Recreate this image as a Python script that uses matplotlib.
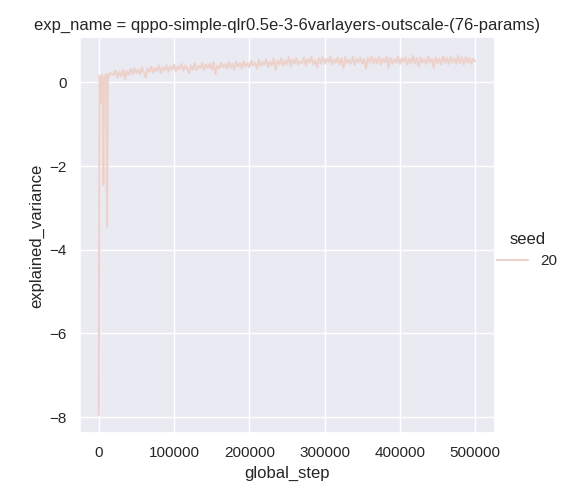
import numpy as np
import pandas as pd
import seaborn as sns
import matplotlib
matplotlib.use("Agg")
import matplotlib.pyplot as plt

exp_name = "qppo-simple-qlr0.5e-3-6varlayers-outscale-(76-params)"
seed = 20

# finer logging at the start of training, then every 2500 steps
early_steps = [0, 1000, 2000, 3000, 4000, 5000, 6000, 7000, 8000, 9000,
               10000, 11000, 12000, 13000, 14000, 15000, 17500, 20000]
early_values = [-7.95, 0.15, 0.1, -0.5, 0.18, 0.12, -2.45, 0.1, 0.05, 0.15,
                0.2, -3.45, 0.12, 0.18, 0.15, 0.22, 0.2, 0.18]

late_steps = np.arange(22500, 500001, 2500)
late_values = [
    0.28, 0.12, 0.25, 0.15, 0.3, 0.08, 0.27, 0.18, 0.32, 0.2,
    0.34, 0.22, 0.3, 0.19, 0.36, 0.24, 0.12, 0.33, 0.25, 0.37,
    0.23, 0.35, 0.27, 0.4, 0.22, 0.36, 0.29, 0.41, 0.25, 0.38,
    0.3, 0.42, 0.26, 0.39, 0.32, 0.44, 0.28, 0.4, 0.33, 0.22,
    0.41, 0.3, 0.45, 0.29, 0.39, 0.34, 0.46, 0.3, 0.42, 0.35,
    0.44, 0.31, 0.47, 0.2, 0.4, 0.33, 0.46, 0.36, 0.43, 0.32,
    0.48, 0.35, 0.44, 0.3, 0.49, 0.37, 0.45, 0.34, 0.5, 0.38,
    0.46, 0.36, 0.52, 0.4, 0.47, 0.33, 0.53, 0.39, 0.48, 0.42,
    0.55, 0.37, 0.5, 0.41, 0.56, 0.3, 0.51, 0.43, 0.57, 0.4,
    0.52, 0.44, 0.6, 0.38, 0.54, 0.45, 0.58, 0.42, 0.5, 0.46,
    0.59, 0.4, 0.55, 0.47, 0.61, 0.43, 0.53, 0.36, 0.58, 0.45,
    0.6, 0.44, 0.56, 0.48, 0.62, 0.42, 0.55, 0.47, 0.59, 0.43,
    0.57, 0.35, 0.6, 0.46, 0.54, 0.44, 0.61, 0.42, 0.56, 0.48,
    0.59, 0.45, 0.55, 0.33, 0.58, 0.47, 0.62, 0.44, 0.57, 0.46,
    0.6, 0.43, 0.56, 0.48, 0.61, 0.36, 0.58, 0.45, 0.55, 0.47,
    0.62, 0.44, 0.57, 0.49, 0.6, 0.42, 0.56, 0.46, 0.63, 0.45,
    0.58, 0.38, 0.59, 0.47, 0.55, 0.44, 0.61, 0.48, 0.57, 0.35,
    0.6, 0.46, 0.56, 0.43, 0.62, 0.47, 0.58, 0.44, 0.61, 0.48,
    0.57, 0.45, 0.63, 0.46, 0.59, 0.43, 0.6, 0.47, 0.58, 0.45,
    0.56, 0.5,
]

df = pd.DataFrame({
    "global_step": list(early_steps) + list(late_steps),
    "explained_variance": early_values + late_values,
})
df["seed"] = seed
df["exp_name"] = exp_name

sns.set_theme()
plt.rcParams["font.family"] = ["Liberation Sans", "DejaVu Sans"]

g = sns.relplot(data=df, x="global_step", y="explained_variance",
                hue="seed", col="exp_name", kind="line")
g.figure.set_size_inches(5.71, 5.0)
g.figure.subplots_adjust(left=0.140, right=0.865, top=0.924, bottom=0.134)
g.legend.set_bbox_to_anchor((1.0, 0.5))
g.figure.savefig("out.png", dpi=100)
